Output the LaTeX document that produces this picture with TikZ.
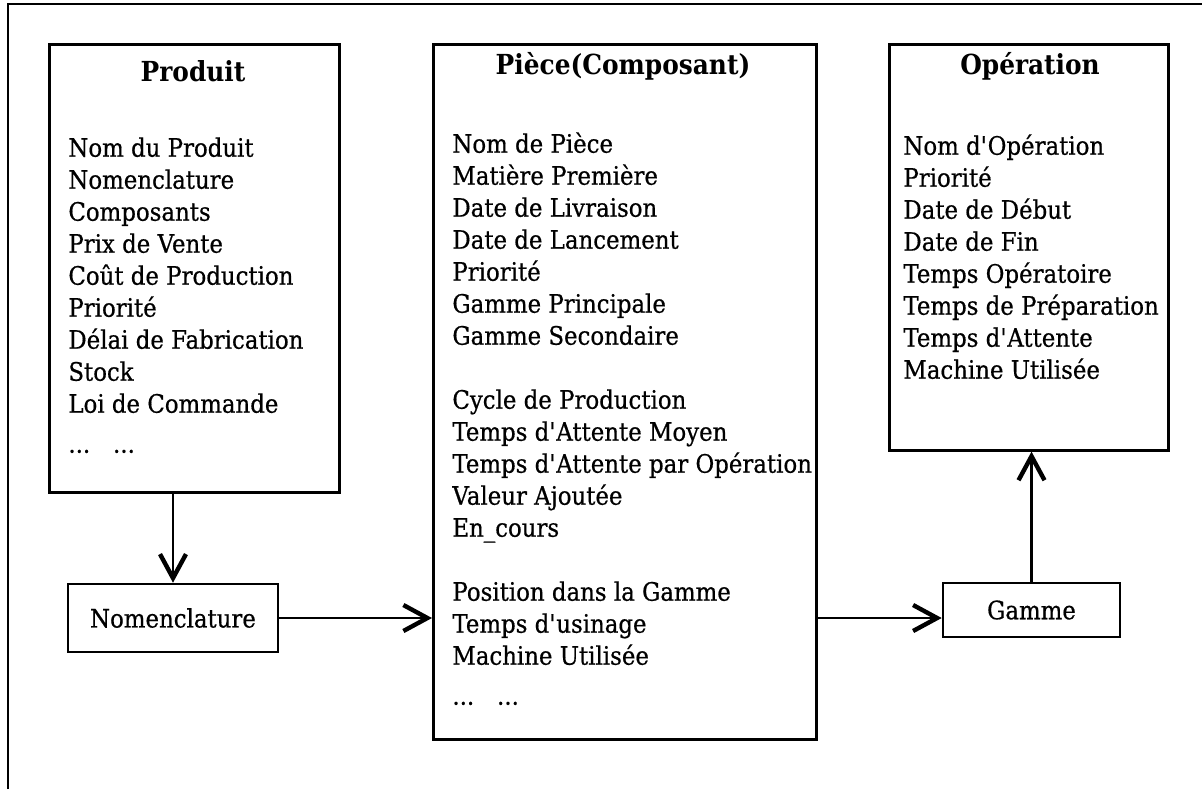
\documentclass[tikz,border=0pt]{standalone}
\usepackage{fontspec}
\setmainfont{DejaVu Serif}[FakeStretch=0.9, UprightFeatures={FakeBold=0.6}]
\usetikzlibrary{arrows.meta}
\begin{document}
\begin{tikzpicture}[x=0.5pt,y=-0.5pt,
  box/.style={draw, line width=1.3pt, inner sep=0pt, anchor=north west},
  lbox/.style={draw, line width=1.3pt, inner sep=0pt, font=\fontsize{12.7}{16}\selectfont},
  ttl/.style={font=\fontsize{13.8}{16}\selectfont\bfseries, inner sep=0pt},
  items/.style={font=\fontsize{12.7}{16}\selectfont, align=left, anchor=north west, inner sep=0pt},
  conn/.style={line width=1.2pt, -{Straight Barb[length=12pt,width=13pt,line width=2.2pt]}}]
\useasboundingbox (0,0) rectangle (1202,789);
% outer frame (top and left edges only)
\draw[line width=1.1pt] (8,789) -- (8,4) -- (1202,4);
% Produit
\node[box, minimum width=145pt, minimum height=224pt] (produit) at (48,43) {};
\node[ttl] (produitT) at (193,71) {Produit};
\node[items] (produitL) at (68,137) {Nom du Produit\\Nomenclature\\Composants\\Prix de Vente\\Coût de Production\\Priorité\\Délai de Fabrication\\Stock\\Loi de Commande\\[4pt]...\hspace{0.9em}...};
% Piece
\node[box, minimum width=191.5pt, minimum height=347.5pt] (piece) at (432,43) {};
\node[ttl] (pieceT) at (623,66) {Pièce(Composant)};
\node[items] (pieceL) at (452,132) {Nom de Pièce\\Matière Première\\Date de Livraison\\Date de Lancement\\Priorité\\Gamme Principale\\Gamme Secondaire\\[16pt]Cycle de Production\\Temps d\textquotesingle Attente Moyen\\Temps d\textquotesingle Attente par Opération\\Valeur Ajoutée\\En\_cours\\[16pt]Position dans la Gamme\\Temps d\textquotesingle usinage\\Machine Utilisée\\[4pt]...\hspace{0.9em}...};
% Operation
\node[box, minimum width=139.5pt, minimum height=203pt] (op) at (888,43) {};
\node[ttl] (opT) at (1030,66) {Opération};
\node[items] (opL) at (903,134) {Nom d\textquotesingle Opération\\Priorité\\Date de Début\\Date de Fin\\Temps Opératoire\\Temps de Préparation\\Temps d\textquotesingle Attente\\Machine Utilisée};
% small boxes
\node[lbox, minimum width=105pt, minimum height=34pt] (nom) at (173,618) {Nomenclature};
\node[lbox, minimum width=88.5pt, minimum height=27pt] (gamme) at (1031.5,610) {Gamme};
% connectors
\draw[conn] (produit.south -| nom.north) -- (nom.north);
\draw[conn] (nom.east) -- (nom.east -| piece.west);
\draw[conn] (piece.east |- nom.east) -- (gamme.west |- nom.east);
\draw[conn] (gamme.north) -- (gamme.north |- op.south);
\end{tikzpicture}
\end{document}
